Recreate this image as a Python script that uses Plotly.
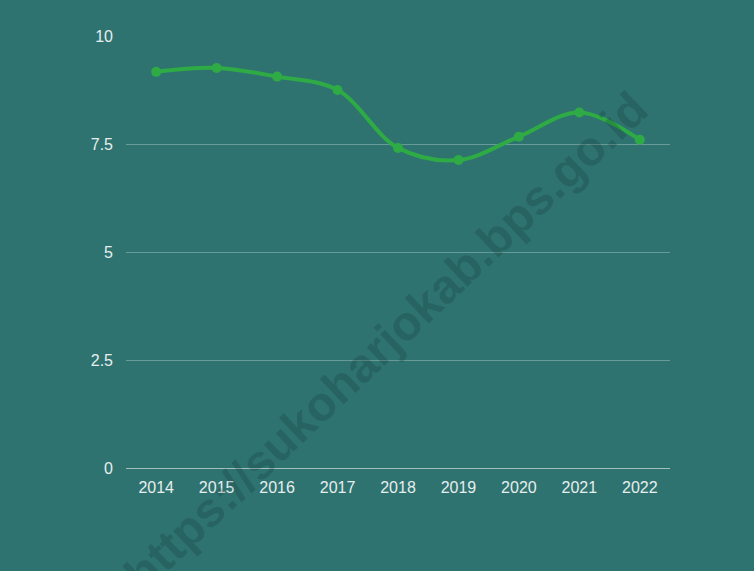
import plotly.graph_objects as go

years = ["2014", "2015", "2016", "2017", "2018", "2019", "2020", "2021", "2022"]
values = [9.17, 9.26, 9.06, 8.75, 7.41, 7.13, 7.67, 8.23, 7.60]
y_ticks = [0, 2.5, 5, 7.5, 10]
y_tick_labels = ["0", "2.5", "5", "7.5", "10"]
watermark = "https://sukoharjokab.bps.go.id"

bg = "#2f7370"
fig = go.Figure()
fig.add_trace(go.Scatter(
    x=years, y=values, mode="lines+markers",
    line=dict(color="#2eab45", width=4, shape="spline", smoothing=1),
    marker=dict(color="#2eab45", size=10),
    hoverinfo="x+y", showlegend=False,
))
fig.add_annotation(
    text="<b>" + watermark + "</b>", xref="paper", yref="paper",
    x=(386 - 126) / 544, y=(468 - 342) / 432,
    xanchor="center", yanchor="middle",
    showarrow=False, textangle=-43.5,
    font=dict(family="Liberation Sans, Arial", size=48, color="rgba(10,40,40,0.2)"),
)
fig.update_layout(
    width=754, height=571,
    paper_bgcolor=bg, plot_bgcolor=bg,
    margin=dict(l=126, r=84, t=36, b=103),
    font=dict(family="Liberation Sans, Arial", size=16, color="#e6eeee"),
    xaxis=dict(type="category", range=[-0.5, len(years) - 0.5],
               showgrid=False, showline=False, zeroline=False,
               ticks="", ticklabelstandoff=8),
    yaxis=dict(range=[0, 10], tickvals=y_ticks, ticktext=y_tick_labels,
               showgrid=True, gridcolor="rgba(255,255,255,0.28)", gridwidth=1,
               zeroline=True, zerolinecolor="rgba(255,255,255,0.55)", zerolinewidth=1,
               showline=False, ticks="", ticklabelstandoff=12),
)
fig.write_html("out.html", config={"displayModeBar": False},
               post_script="document.body.style.margin='0px';document.body.style.overflow='hidden';")
